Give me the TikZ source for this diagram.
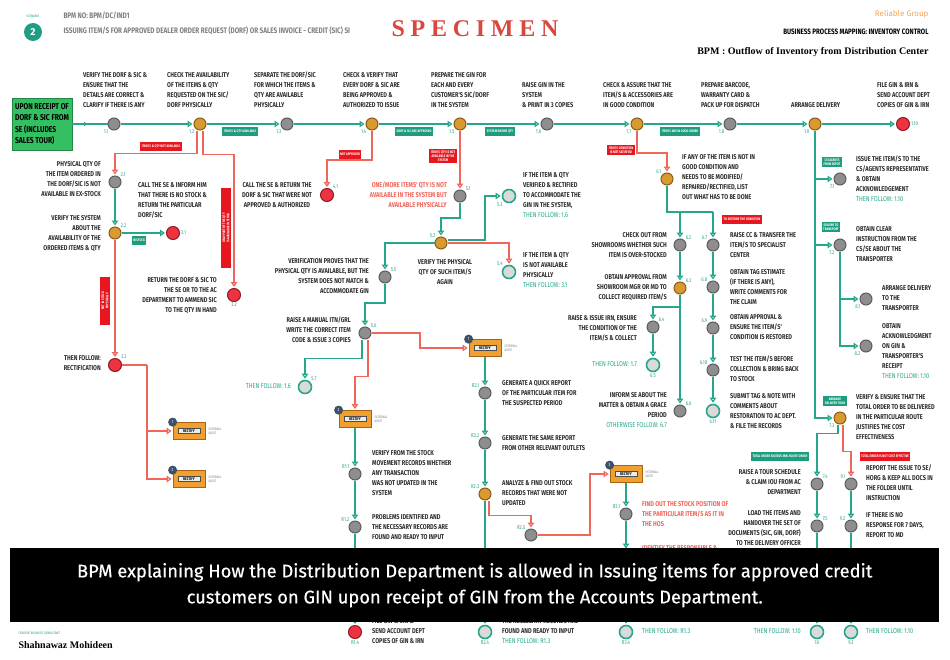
\documentclass[tikz,border=0pt]{standalone}
\usepackage{fontspec}
\setmainfont{Fira Sans}
\newfontfamily\condfont[FakeStretch=0.8]{Fira Sans}
\newfontfamily\bannerfont[FakeBold=0.5]{Fira Sans}
\newfontfamily\titleserif{Liberation Serif}
\newfontfamily\specfont[LetterSpace=24]{Liberation Serif}
\usepackage{tikz}
\usetikzlibrary{arrows.meta,positioning,calc,decorations.markings}

\definecolor{flowteal}{HTML}{26A68A}
\definecolor{flowred}{HTML}{F0665A}
\definecolor{tagteal}{HTML}{1E9C7E}
\definecolor{tagred}{HTML}{E8161E}
\definecolor{stepgray}{HTML}{8E8E8E}
\definecolor{stepedge}{HTML}{5C5C5C}
\definecolor{decfill}{HTML}{D99A30}
\definecolor{decedge}{HTML}{8A5A18}
\definecolor{endred}{HTML}{EE3340}
\definecolor{endedge}{HTML}{8C1C24}
\definecolor{lightfill}{HTML}{DADADA}
\definecolor{startgreen}{HTML}{34C062}
\definecolor{boxorange}{HTML}{F0A030}
\definecolor{boxedge}{HTML}{A86410}
\definecolor{badgeblue}{HTML}{3E5068}
\definecolor{descgray}{HTML}{2E2E2E}
\definecolor{headteal}{HTML}{1F9E84}
\definecolor{specred}{HTML}{D8483E}
\definecolor{relorange}{HTML}{F2A55A}

\newcommand{\desctxt}{\condfont\bfseries\fontsize{7}{10}\selectfont}
\newcommand{\numtxt}{\condfont\fontsize{5.5}{6}\selectfont}
\newcommand{\tagtxt}{\condfont\bfseries\fontsize{3.6}{4.3}\selectfont}
\newcommand{\follow}[1]{\textcolor{flowteal}{\mdseries #1}}

\tikzset{
  stepnode/.style={circle, draw=stepedge, fill=stepgray, line width=1pt, minimum size=12pt, inner sep=0pt},
  decnode/.style={stepnode, draw=decedge, fill=decfill},
  endnode/.style={stepnode, draw=endedge, fill=endred, minimum size=13pt},
  follownode/.style={stepnode, draw=flowteal, fill=lightfill, line width=1.6pt, minimum size=13pt},
  plainflow/.style={draw=flowteal, line width=1.4pt},
  plainred/.style={draw=flowred, line width=1.4pt},
  flow/.style={plainflow, -{Triangle[open, length=5pt, width=6.5pt]}, shorten >=1pt},
  noflow/.style={flow, draw=flowred},
  midarrow/.style={postaction={decorate}, decoration={markings, mark=at position 0.45 with {\arrow{Latex[length=4pt,width=4.5pt]}}}},
  desc/.style={font=\desctxt, text=descgray, inner sep=0pt, align=left, anchor=north west},
  descr/.style={desc, align=right, anchor=north east},
  descc/.style={desc, align=center, anchor=north},
  numlbl/.style={font=\numtxt, text=flowteal, inner sep=1pt},
  tagok/.style={fill=tagteal, text=white, font=\tagtxt, inner sep=1.5pt, align=center, minimum height=9pt},
  tagno/.style={tagok, fill=tagred},
  rectbox/.style={draw=boxedge, fill=boxorange, line width=0.8pt, minimum width=32pt, minimum height=17pt},
  rectin/.style={draw=black!70, fill=gray!15, font=\condfont\bfseries\fontsize{4}{4}\selectfont, inner sep=1.2pt, minimum width=22pt},
  badge/.style={circle, fill=badgeblue, text=white, font=\condfont\fontsize{4.5}{5}\selectfont, inner sep=0pt, minimum size=9pt},
  auditlbl/.style={font=\condfont\fontsize{3.5}{4.2}\selectfont, text=gray, align=left, anchor=west, inner sep=0pt}
}

\begin{document}
\begin{tikzpicture}[x=1pt, y=-1pt]
\fill[white] (0,0) rectangle (950,659);
\useasboundingbox (0,0) rectangle (950,659);

% header
\node[circle, fill=headteal, text=white, minimum size=18pt, inner sep=0pt, font=\bfseries\fontsize{10}{10}\selectfont] (scen) at (33,32) {2};
\node[font=\condfont\fontsize{3.5}{4}\selectfont, text=headteal] (scenlbl) at (33,16) {SCENARIO};
\node[font=\condfont\bfseries\fontsize{8}{8}\selectfont, text=gray, anchor=west] (bpmno) at (60,16) {BPM NO: BPM/DC/IND1};
\node[font=\condfont\bfseries\fontsize{8}{8}\selectfont, text=gray, anchor=west] (scentitle) at (60,31) {ISSUING ITEM/S FOR APPROVED DEALER ORDER REQUEST (DORF) OR SALES INVOICE - CREDIT (SIC) SI};
\node[font=\specfont\bfseries\fontsize{24}{24}\selectfont, text=specred] (spec) at (475,29) {SPECIMEN};
\node[font=\fontsize{8}{8}\selectfont, text=relorange, anchor=east] (rel) at (932,14) {Reliable Group};
\node[font=\condfont\bfseries\fontsize{7.8}{8}\selectfont, anchor=east] (bpmtitle) at (932,32) {BUSINESS PROCESS MAPPING: INVENTORY CONTROL};
\node[font=\titleserif\bfseries\fontsize{10}{10}\selectfont, anchor=east] (bpmsub) at (932,52) {BPM : Outflow of Inventory from Distribution Center};

% main row
\node[fill=startgreen, draw=startgreen!70!black, minimum width=60pt, minimum height=52pt, font=\condfont\bfseries\fontsize{8.5}{11.5}\selectfont, align=left, inner sep=1pt] (start) at (42,124) {UPON RECEIPT OF\\DORF \& SIC FROM\\SE (INCLUDES\\SALES TOUR)};
\node[stepnode, label={[numlbl]below left:1.1}] (s11) at (114,124) {};
\node[decnode, label={[numlbl]below left:1.2}] (s12) at (200,124) {};
\node[stepnode, label={[numlbl]below left:1.3}] (s13) at (287,124) {};
\node[decnode, label={[numlbl]below left:1.4}] (s14) at (372,124) {};
\node[decnode, label={[numlbl]below left:1.5}] (s15) at (460,124) {};
\node[stepnode, label={[numlbl]below left:1.6}] (s16) at (547,124) {};
\node[decnode, label={[numlbl]below left:1.7}] (s17) at (637,124) {};
\node[stepnode, label={[numlbl]below left:1.8}] (s18) at (730,124) {};
\node[decnode, label={[numlbl]below left:1.9}] (s19) at (815,124) {};
\node[endnode, label={[numlbl]right:1.10}] (s110) at (903,124) {};

\draw[plainflow, midarrow] (start) -- (s11);
\draw[flow] (s11) -- (s12);
\draw[flow] (s12) -- (s13);
\draw[flow] (s13) -- (s14);
\draw[flow] (s14) -- (s15);
\draw[flow] (s15) -- (s16);
\draw[flow] (s16) -- (s17);
\draw[flow] (s17) -- (s18);
\draw[flow] (s18) -- (s19);
\draw[flow] (s19) -- (s110);

\node[tagok] (tg12) at (240,131) {ITEM/S \& QTY AVAILABLE};
\node[tagok] (tg14) at (414,131) {DORF \& SIC ARE APPROVED};
\node[tagok] (tg15) at (500,131) {SYSTEM SHOWS QTY};
\node[tagok] (tg17) at (680,131) {ITEM/S ARE IN GOOD ORDER};

\node[desc] (d11) at (83,72) {VERIFY THE DORF \& SIC \&\\ENSURE THAT THE\\DETAILS ARE CORRECT \&\\CLARIFY IF THERE IS ANY};
\node[desc] (d12) at (167,72) {CHECK THE AVAILABILITY\\OF THE ITEMS \& QTY\\REQUESTED ON THE SIC/\\DORF PHYSICALLY};
\node[desc] (d13) at (254,72) {SEPARATE THE DORF/SIC\\FOR WHICH THE ITEMS \&\\QTY ARE AVAILABLE\\PHYSICALLY};
\node[desc] (d14) at (343,72) {CHECK \& VERIFY THAT\\EVERY DORF \& SIC ARE\\BEING APPROVED \&\\AUTHORIZED TO ISSUE};
\node[desc] (d15) at (431,72) {PREPARE THE GIN FOR\\EACH AND EVERY\\CUSTOMER'S SIC/DORF\\IN THE SYSTEM};
\node[desc] (d16) at (522,82) {RAISE GIN IN THE\\SYSTEM\\\& PRINT IN 3 COPIES};
\node[desc] (d17) at (603,82) {CHECK \& ASSURE THAT THE\\ITEM/S \& ACCESSORIES ARE\\IN GOOD CONDITION};
\node[desc] (d18) at (701,82) {PREPARE BARCODE,\\WARRANTY CARD \&\\PACK UP FOR DISPATCH};
\node[desc] (d19) at (791,102) {ARRANGE DELIVERY};
\node[desc] (d110) at (877,82) {FILE GIN \& IRN \&\\SEND ACCOUNT DEPT\\COPIES OF GIN \& IRN};

% branch 2, 3
\node[stepnode, label={[numlbl]above right:2.1}] (s21) at (115,182) {};
\node[decnode, label={[numlbl]above right:2.2}] (s22) at (115,233) {};
\node[endnode, label={[numlbl]right:3.1}] (s31) at (173,233) {};
\node[endnode, label={[numlbl]below:3.2}] (s32) at (234,295) {};
\node[endnode, label={[numlbl]above right:3.3}] (s33) at (115,365) {};
\coordinate (c33) at (147,365);

\draw[noflow] ([xshift=-3pt]s12.south) -- ++(0,23) -| (s21);
\draw[noflow] ([xshift=3pt]s12.south) -- ++(0,24) -| (s32);
\draw[flow] (s21) -- (s22);
\draw[flow] (s22) -- (s31);
\draw[noflow] (s22) -- (s33);

\node[tagno] (tg21) at (161,146) {ITEM/S \& QTY NOT AVAILABLE};
\node[tagno, rotate=90, minimum width=80pt] (tg32) at (226,228) {ONLY PART OF THE QTY\\IS AVAILABLE IN STOCK};
\node[tagok] (tg31) at (139,240) {IN STOCK};
\node[tagno, rotate=90, minimum width=48pt] (tg33) at (105,301) {NOT IN STOCK\\PHYSICALLY};

\node[descr] (d21) at (101,161) {PHYSICAL QTY OF\\THE ITEM ORDERED IN\\THE DORF/SIC IS NOT\\AVAILABLE IN EX-STOCK};
\node[descr] (d22) at (101,215) {VERIFY THE SYSTEM\\ABOUT THE\\AVAILABILITY OF THE\\ORDERED ITEMS \& QTY};
\node[desc] (d31) at (138,182) {CALL THE SE \& INFORM HIM\\THAT THERE IS NO STOCK \&\\RETURN THE PARTICULAR\\DORF/SIC};
\node[descr] (d32) at (217,277) {RETURN THE DORF \& SIC TO\\THE SE OR TO THE AC\\DEPARTMENT TO AMMEND SIC\\TO THE QTY IN HAND};
\node[descr] (d33) at (101,355) {THEN FOLLOW:\\RECTIFICATION};

% rectify boxes
\node[rectbox] (rb1) at (189,431) {};
\node[rectin] (rb1in) at (rb1) {RECTIFY};
\node[badge] (rb1bd) at (rb1.north west) {1};
\node[auditlbl] (rb1au) at ([xshift=3pt]rb1.east) {EXTERNAL\\AUDIT};
\node[rectbox] (rb2) at (189,479) {};
\node[rectin] (rb2in) at (rb2) {RECTIFY};
\node[badge] (rb2bd) at (rb2.north west) {2};
\node[auditlbl] (rb2au) at ([xshift=3pt]rb2.east) {EXTERNAL\\AUDIT};
\node[rectbox] (rb3) at (485,348) {};
\node[rectin] (rb3in) at (rb3) {RECTIFY};
\node[badge] (rb3bd) at (rb3.north west) {1};
\node[auditlbl] (rb3au) at ([xshift=3pt]rb3.east) {EXTERNAL\\AUDIT};
\node[rectbox] (rb4) at (355,419) {};
\node[rectin] (rb4in) at (rb4) {RECTIFY};
\node[badge] (rb4bd) at (rb4.north west) {2};
\node[auditlbl] (rb4au) at ([xshift=3pt]rb4.east) {EXTERNAL\\AUDIT};
\node[rectbox] (rb5) at (626,474) {};
\node[rectin] (rb5in) at (rb5) {RECTIFY};
\node[badge] (rb5bd) at (rb5.north west) {3};
\node[auditlbl] (rb5au) at ([xshift=3pt]rb5.east) {EXTERNAL\\AUDIT};

\draw[plainred] (s33) -- (c33);
\draw[noflow] (c33) |- (rb1);
\draw[noflow] (c33) |- (rb2);

% branch 4, 5
\node[endnode, label={[numlbl]above right:4.1}] (s41) at (327,195) {};
\node[stepnode, label={[numlbl]above right:5.1}] (s51) at (460,196) {};
\node[decnode, label={[numlbl]above left:5.2}] (s52) at (441,243) {};
\node[follownode, label={[numlbl]below left:5.3}] (s53) at (509,196) {};
\node[follownode, label={[numlbl]above left:5.4}] (s54) at (509,272) {};
\node[stepnode, label={[numlbl]above right:5.5}] (s55) at (385,277) {};
\node[stepnode, label={[numlbl]above right:5.6}] (s56) at (365,333) {};
\node[follownode, label={[numlbl]above right:5.7}] (s57) at (305,387) {};
\coordinate (c52) at (485,240);

\draw[noflow] (s14) -- ++(0,36) -| (s41);
\draw[noflow] (s15) -- (s51);
\draw[flow] (s51) -- ++(0,22) -| (s52);
\draw[flow] (s52) -| (s55);
\draw[flow] ([yshift=3pt]s52.east) -- (c52) |- (s53);
\draw[noflow] (s52) -| (s54);
\draw[flow] (s55) -- ++(0,26) -| (s56);
\draw[flow] ([xshift=-3pt]s56.south) -- ++(0,19) -| (s57);
\draw[noflow] (s56) -- ++(55,0) |- (rb3);
\draw[noflow] ([xshift=3pt]s56.south) -- ++(0,37) -| (rb4);

\node[tagno] (tg41) at (350,154) {NOT APPROVED};
\node[tagno] (tg51) at (443,156) {ITEM/S QTY IS NOT\\AVAILABLE IN THE\\SYSTEM};

\node[descc] (d41) at (277,182) {CALL THE SE \& RETURN THE\\DORF \& SIC THAT WERE NOT\\APPROVED \& AUTHORIZED};
\node[descr, text=flowred] (d51) at (447,182) {ONE/MORE ITEMS' QTY IS NOT\\AVAILABLE IN THE SYSTEM BUT\\AVAILABLE PHYSICALLY};
\node[descc] (d52) at (445,259) {VERIFY THE PHYSICAL\\QTY OF SUCH ITEM/S\\AGAIN};
\node[desc] (d53) at (523,172) {IF THE ITEM \& QTY\\VERIFIED \& RECTIFIED\\TO ACCOMMODATE THE\\GIN IN THE SYSTEM,\\\follow{THEN FOLLOW: 1.6}};
\node[desc] (d54) at (523,252) {IF THE ITEM \& QTY\\IS NOT AVAILABLE\\PHYSICALLY\\\follow{THEN FOLLOW: 3.1}};
\node[descr] (d55) at (369,258) {VERIFICATION PROVES THAT THE\\PHYSICAL QTY IS AVAILABLE, BUT THE\\SYSTEM DOES NOT MATCH \&\\ACCOMMODATE GIN};
\node[descr] (d56) at (351,317) {RAISE A MANUAL ITN/GRL\\WRITE THE CORRECT ITEM\\CODE \& ISSUE 3 COPIES};
\node[descr] (d57) at (291,383) {\follow{THEN FOLLOW: 1.6}};

% rectification chains
\node[stepnode, label={[numlbl]above left:R1.1}] (r11) at (355,474) {};
\node[stepnode, label={[numlbl]above left:R1.2}] (r12) at (355,527) {};
\node[endnode, label={[numlbl]below:R1.4}] (r14) at (355,632) {};
\node[stepnode, label={[numlbl]above left:R2.1}] (r21) at (485,393) {};
\node[stepnode, label={[numlbl]above left:R2.2}] (r22) at (485,443) {};
\node[decnode, label={[numlbl]above left:R2.3}] (r23) at (485,494) {};
\node[follownode, label={[numlbl]below:R2.4}] (r24) at (485,632) {};
\node[stepnode, label={[numlbl]above left:R2.5}] (r25) at (531,535) {};
\node[stepnode, label={[numlbl]above left:R3.1}] (r31) at (626,514) {};
\node[stepnode] (r32) at (626,556) {};
\node[follownode, label={[numlbl]below:R3.4}] (r34) at (626,632) {};

\draw[flow] (rb4) -- (r11);
\draw[flow] (r11) -- (r12);
\draw[flow] (r12) -- (r14);
\draw[flow] (rb3) -- (r21);
\draw[flow] (r21) -- (r22);
\draw[flow] (r22) -- (r23);
\draw[flow] (r23) -- (r24);
\draw[noflow] ([xshift=4pt]r23.south) -- ++(0,15) -| (r25);
\draw[noflow] (r25) -- ++(59,0) |- (rb5);
\draw[flow] (rb5) -- (r31);
\draw[flow] (r31) -- (r32);
\draw[flow] (r32) -- (r34);

\node[desc] (dr11) at (372,450) {VERIFY FROM THE STOCK\\MOVEMENT RECORDS WHETHER\\ANY TRANSACTION\\WAS NOT UPDATED IN THE\\SYSTEM};
\node[desc] (dr12) at (372,514) {PROBLEMS IDENTIFIED AND\\THE NECESSARY RECORDS ARE\\FOUND AND READY TO INPUT};
\node[desc] (dr14) at (372,618) {FILE GIN \& IRN \&\\SEND ACCOUNT DEPT\\COPIES OF GIN \& IRN};
\node[desc] (dr21) at (502,380) {GENERATE A QUICK REPORT\\OF THE PARTICULAR ITEM FOR\\THE SUSPECTED PERIOD};
\node[desc] (dr22) at (502,435) {GENERATE THE SAME REPORT\\FROM OTHER RELEVANT OUTLETS};
\node[desc] (dr23) at (502,480) {ANALYZE \& FIND OUT STOCK\\RECORDS THAT WERE NOT\\UPDATED};
\node[desc] (dr24) at (502,608) {PROBLEMS IDENTIFIED AND\\THE NECESSARY RECORDS ARE\\FOUND AND READY TO INPUT\\\follow{THEN FOLLOW: R1.3}};
\node[desc, text=flowred] (dr31) at (642,501) {FIND OUT THE STOCK POSITION OF\\THE PARTICULAR ITEM/S AS IT IN\\THE HOS};
\node[desc, text=flowred] (dr32) at (642,545) {IDENTIFY THE RESPONSIBLE \&\\PREPARE A REPORT};
\node[desc] (dr34) at (642,628) {\follow{THEN FOLLOW: R1.3}};

% branch 6
\node[decnode, label={[numlbl]above left:6.1}] (s61) at (667,179) {};
\node[stepnode, label={[numlbl]above right:6.2}] (s62) at (680,245) {};
\node[decnode, label={[numlbl]above right:6.3}] (s63) at (680,288) {};
\node[stepnode, label={[numlbl]above right:6.4}] (s64) at (653,327) {};
\node[follownode, label={[numlbl]below:6.5}] (s65) at (653,365) {};
\node[stepnode, label={[numlbl]above right:6.6}] (s66) at (680,411) {};
\node[stepnode, label={[numlbl]above left:6.7}] (s67) at (713,245) {};
\node[stepnode, label={[numlbl]above left:6.8}] (s68) at (713,287) {};
\node[stepnode, label={[numlbl]above left:6.9}] (s69) at (713,328) {};
\node[stepnode, label={[numlbl]above left:6.10}] (s610) at (713,370) {};
\node[follownode, label={[numlbl]below:6.11}] (s611) at (713,411) {};
\coordinate (c61) at (680,212);
\coordinate (c67) at (713,212);
\coordinate (c63) at (680,307);

\draw[noflow] (s17) -- ++(0,29) -| (s61);
\draw[plainflow] (s61) |- (c67);
\draw[flow] (c61) -- (s62);
\draw[flow] (c67) -- (s67);
\draw[flow] (s62) -- (s63);
\draw[flow] (s63) -- (s66);
\draw[flow] (c63) -| (s64);
\draw[flow] (s64) -- (s65);
\draw[flow] (s67) -- (s68);
\draw[flow] (s68) -- (s69);
\draw[flow] (s69) -- (s610);
\draw[flow] (s610) -- (s611);

\node[tagno, anchor=east] (tg61) at (635,150) {ITEM/S CONDITION\\IS NOT SATISFIED};
\node[tagno] (tg67) at (742,219) {TO RESTORE THE CONDITION};

\node[desc] (d61) at (682,154) {IF ANY OF THE ITEM IS NOT IN\\GOOD CONDITION AND\\NEEDS TO BE MODIFIED/\\REPAIRED/RECTIFIED, LIST\\OUT WHAT HAS TO BE DONE};
\node[descr] (d62) at (667,232) {CHECK OUT FROM\\SHOWROOMS WHETHER SUCH\\ITEM IS OVER-STOCKED};
\node[descr] (d63) at (667,274) {OBTAIN APPROVAL FROM\\SHOWROOM MGR OR MD TO\\COLLECT REQUIRED ITEM/S};
\node[descr] (d64) at (637,315) {RAISE \& ISSUE IRN, ENSURE\\THE CONDITION OF THE\\ITEM/S \& COLLECT};
\node[descr] (d65) at (637,361) {\follow{THEN FOLLOW: 1.7}};
\node[descr] (d66) at (667,392) {INFORM SE ABOUT THE\\MATTER \& OBTAIN A GRACE\\PERIOD\\\follow{OTHERWISE FOLLOW: 6.7}};
\node[desc] (d67) at (730,232) {RAISE CC \& TRANSFER THE\\ITEM/S TO SPECIALIST\\CENTER};
\node[desc] (d68) at (730,269) {OBTAIN TAG ESTIMATE\\(IF THERE IS ANY),\\WRITE COMMENTS FOR\\THE CLAIM};
\node[desc] (d69) at (730,314) {OBTAIN APPROVAL \&\\ENSURE THE ITEM/S'\\CONDITION IS RESTORED};
\node[desc] (d610) at (730,356) {TEST THE ITEM/S BEFORE\\COLLECTION \& BRING BACK\\TO STOCK};
\node[desc] (d611) at (730,393) {SUBMIT TAG \& NOTE WITH\\COMMENTS ABOUT\\RESTORATION TO AC DEPT.\\\& FILE THE RECORDS};

% branch 7, 8, 9
\node[stepnode, label={[numlbl]below left:7.1}] (s71) at (840,179) {};
\node[stepnode, label={[numlbl]below left:7.2}] (s72) at (840,245) {};
\node[stepnode, label={[numlbl]below left:8.1}] (s81) at (866,299) {};
\node[stepnode, label={[numlbl]below left:8.2}] (s82) at (866,346) {};
\node[decnode, label={[numlbl]below left:7.3}] (s73) at (840,418) {};
\node[stepnode, label={[numlbl]above right:7.4}] (s74) at (817,484) {};
\node[stepnode, label={[numlbl]above right:7.5}] (s75) at (817,526) {};
\node[follownode, label={[numlbl]below:7.6}] (s76) at (817,632) {};
\node[stepnode, label={[numlbl]above left:9.1}] (s91) at (851,484) {};
\node[stepnode, label={[numlbl]above left:9.2}] (s92) at (851,526) {};
\node[follownode, label={[numlbl]below:9.3}] (s93) at (851,632) {};
\coordinate (c71) at (815,179);
\coordinate (c72) at (815,245);
\coordinate (c81) at (840,299);

\draw[flow] (s19) |- (s73);
\draw[flow] (c71) -- (s71);
\draw[flow] (c72) -- (s72);
\draw[flow] (s72) |- (s82);
\draw[flow] (c81) -- (s81);
\draw[flow] ([xshift=-2pt]s73.south) -- ++(0,9) -| (s74);
\draw[noflow] ([xshift=3pt]s73.south) -- ++(0,27) -| (s91);
\draw[flow] (s74) -- (s75);
\draw[flow] (s75) -- (s76);
\draw[flow] (s91) -- (s92);
\draw[flow] (s92) -- (s93);

\node[tagok] (tg71) at (832,162) {CS/AGENTS\\FROM DEPOT};
\node[tagok] (tg72) at (831,227) {DELIVER TO\\TRANSPORT};
\node[tagok] (tg73) at (835,401) {ARRANGE\\DELIVERY TOUR};
\node[tagok] (tg74) at (780,456) {TOTAL ORDER EXCEEDS MIN. ROUTE ORDER};
\node[tagno] (tg91) at (885,456) {TOTAL ORDER IS NOT COST EFFECTIVE};

\node[desc] (d71) at (856,156) {ISSUE THE ITEM/S TO THE\\CS/AGENTS REPRESENTATIVE\\\& OBTAIN\\ACKNOWLEDGEMENT\\\follow{THEN FOLLOW: 1.10}};
\node[desc] (d72) at (856,226) {OBTAIN CLEAR\\INSTRUCTION FROM THE\\CS/SE ABOUT THE\\TRANSPORTER};
\node[desc] (d81) at (882,285) {ARRANGE DELIVERY\\TO THE\\TRANSPORTER};
\node[desc] (d82) at (882,323) {OBTAIN\\ACKNOWLEDGMENT\\ON GIN \&\\TRANSPORTER'S\\RECEIPT\\\follow{THEN FOLLOW: 1.10}};
\node[desc] (d73) at (856,394) {VERIFY \& ENSURE THAT THE\\TOTAL ORDER TO BE DELIVERED\\IN THE PARTICULAR ROUTE\\JUSTIFIES THE COST\\EFFECTIVENESS};
\node[descr] (d74) at (801,469) {RAISE A TOUR SCHEDULE\\\& CLAIM IOU FROM AC\\DEPARTMENT};
\node[descr] (d75) at (801,510) {LOAD THE ITEMS AND\\HANDOVER THE SET OF\\DOCUMENTS (SIC, GIN, DORF)\\TO THE DELIVERY OFFICER};
\node[descr] (d76) at (801,628) {\follow{THEN FOLLOW: 1.10}};
\node[desc] (d91) at (866,465) {REPORT THE ISSUE TO SE/\\HORG \& KEEP ALL DOCS IN\\THE FOLDER UNTIL\\INSTRUCTION};
\node[desc] (d92) at (866,512) {IF THERE IS NO\\RESPONSE FOR 7 DAYS,\\REPORT TO MD};
\node[desc] (d93) at (866,628) {\follow{THEN FOLLOW: 1.10}};

% banner and footer
\node[fill=black, minimum width=929pt, minimum height=74pt, anchor=north west, inner sep=0pt] (banner) at (10,548) {};
\node[text=white, font=\bannerfont\fontsize{18.3}{26}\selectfont, align=center] (bannertxt) at (banner.center) {BPM explaining How the Distribution Department is allowed in Issuing items for approved credit\\customers on GIN upon receipt of GIN from the Accounts Department.};
\node[font=\condfont\fontsize{3.5}{4}\selectfont, text=headteal, anchor=west] (cbc) at (15,633) {CREATIVE BUSINESS CONSULTANT};
\node[font=\titleserif\bfseries\fontsize{10}{10}\selectfont, anchor=west] (author) at (15,645) {Shahnawaz Mohideen};
\end{tikzpicture}
\end{document}
